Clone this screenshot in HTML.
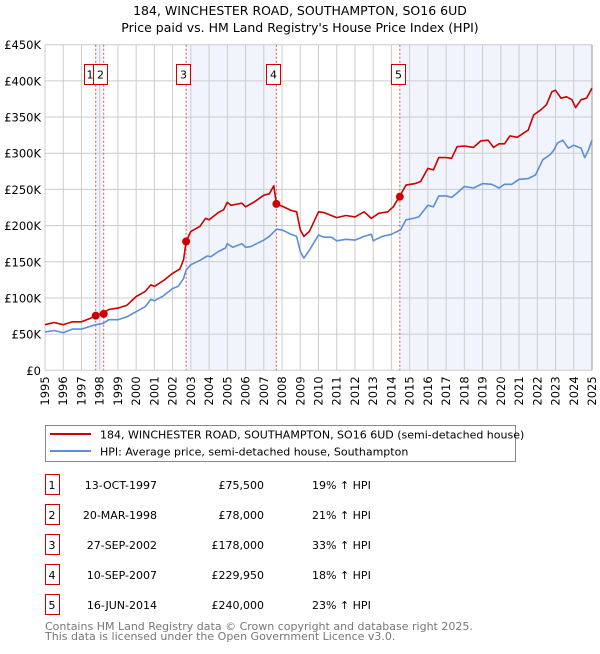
<!DOCTYPE html>
<html><head><meta charset="utf-8"><style>
body{margin:0;background:#fff;font-family:"DejaVu Sans","Liberation Sans",sans-serif;}
svg text{font-family:"DejaVu Sans","Liberation Sans",sans-serif;}
</style></head><body>
<svg id="c" width="600" height="650" xmlns="http://www.w3.org/2000/svg">
<text x="300" y="15" text-anchor="middle" font-size="12.5">184, WINCHESTER ROAD, SOUTHAMPTON, SO16 6UD</text>
<text x="300" y="32" text-anchor="middle" font-size="12.5">Price paid vs. HM Land Registry's House Price Index (HPI)</text>
<g id="plot"></g>
<rect x="45.5" y="425.5" width="470" height="36" fill="#fff" stroke="#888"/>
<line x1="50" y1="434" x2="91" y2="434" stroke="#cc0000" stroke-width="2"/>
<text x="100" y="438.5" font-size="11">184, WINCHESTER ROAD, SOUTHAMPTON, SO16 6UD (semi-detached house)</text>
<line x1="50" y1="451" x2="91" y2="451" stroke="#5b8fd6" stroke-width="2"/>
<text x="100" y="455.5" font-size="11">HPI: Average price, semi-detached house, Southampton</text>
<g id="table"></g>
<text x="45" y="630" font-size="11" fill="#777">Contains HM Land Registry data © Crown copyright and database right 2025.</text>
<text x="45" y="640" font-size="11" fill="#777">This data is licensed under the Open Government Licence v3.0.</text>
</svg>
<script>
const hpiYears=[1995,1995.5,1996,1996.5,1997,1997.5,1997.8,1998.2,1998.5,1999,1999.5,2000,2000.5,2000.8,2001,2001.5,2002,2002.3,2002.6,2002.75,2003,2003.5,2003.9,2004.1,2004.5,2004.9,2005,2005.3,2005.6,2005.8,2006,2006.3,2006.6,2007,2007.3,2007.7,2008,2008.5,2008.8,2009,2009.2,2009.5,2010,2010.3,2010.7,2011,2011.5,2012,2012.5,2012.9,2013,2013.5,2014,2014.5,2014.8,2015.2,2015.5,2016,2016.3,2016.6,2017,2017.3,2017.6,2018,2018.5,2019,2019.5,2019.9,2020.2,2020.6,2021,2021.5,2021.9,2022.3,2022.7,2022.9,2023.1,2023.4,2023.7,2024,2024.4,2024.6,2024.8,2025];
const hpiValues=[53,55,52,57,57,61,63,65,70,70,74,81,88,98,96,103,113,116,127,139,146,152,158,157,164,169,175,170,173,175,170,171,175,180,185,195,194,188,185,164,155,166,187,184,184,179,181,180,185,188,179,185,188,194,208,210,212,228,226,241,241,239,245,254,252,258,257,252,257,257,264,265,270,291,298,304,314,318,307,311,307,294,304,318];
const priceYears=[1995,1995.5,1996,1996.5,1997,1997.5,1997.78,1998.2,1998.5,1999,1999.5,2000,2000.5,2000.8,2001,2001.5,2002,2002.4,2002.6,2002.74,2003,2003.5,2003.8,2004,2004.5,2004.8,2005,2005.2,2005.6,2005.8,2006,2006.5,2007,2007.3,2007.55,2007.69,2008,2008.5,2008.8,2009,2009.2,2009.5,2010,2010.3,2010.6,2011,2011.5,2012,2012.5,2012.9,2013.3,2013.8,2014.1,2014.46,2014.8,2015.3,2015.6,2016,2016.3,2016.6,2017,2017.3,2017.6,2018,2018.5,2018.9,2019.3,2019.6,2019.9,2020.2,2020.5,2020.9,2021.2,2021.5,2021.8,2022.2,2022.5,2022.8,2023,2023.3,2023.6,2023.9,2024.1,2024.4,2024.7,2025];
const priceValues=[63,66,63,67,67,72,76,79,84,86,90,102,109,118,116,124,134,140,153,178,192,199,210,208,218,222,232,228,230,231,226,233,242,244,255,230,227,221,219,194,185,192,219,218,215,211,214,212,219,210,217,219,226,241,256,258,261,279,277,294,294,293,309,310,308,317,318,308,313,313,324,322,327,332,353,360,367,385,387,376,378,374,363,374,376,390];
const saleLabels=["1","2","3","4","5"];
const saleYears=[1997.78,1998.22,2002.74,2007.69,2014.46];
const salePrices=[75.5,78,178,229.95,240];
const saleDates=["13-OCT-1997","20-MAR-1998","27-SEP-2002","10-SEP-2007","16-JUN-2014"];
const salePriceText=["£75,500","£78,000","£178,000","£229,950","£240,000"];
const saleHpiText=["19% ↑ HPI","21% ↑ HPI","33% ↑ HPI","18% ↑ HPI","23% ↑ HPI"];
const yTicks=[0,50,100,150,200,250,300,350,400,450];
const yTickLabels=["£0","£50K","£100K","£150K","£200K","£250K","£300K","£350K","£400K","£450K"];
const xTicks=[1995,1996,1997,1998,1999,2000,2001,2002,2003,2004,2005,2006,2007,2008,2009,2010,2011,2012,2013,2014,2015,2016,2017,2018,2019,2020,2021,2022,2023,2024,2025];

const X0=45,X1=592,Y0=370.3,Y1=44.7;
const sx=y=>X0+(y-1995)/30*(X1-X0);
const sy=v=>Y0-v/450*(Y0-Y1);
const NS="http://www.w3.org/2000/svg";
const plot=document.getElementById('plot');
function mk(tag,attrs,parent){const e=document.createElementNS(NS,tag);for(const k in attrs)e.setAttribute(k,attrs[k]);(parent||plot).appendChild(e);return e;}

let bg=mk('rect',{x:X0,y:Y1,width:X1-X0,height:Y0-Y1,fill:'#fff'});


const shadeStart=[saleYears[0],saleYears[2],saleYears[4]];
const shadeEnd=[saleYears[1],saleYears[3],2025];
for(let i=0;i<shadeStart.length;i++){
 const r=mk('rect',{x:sx(shadeStart[i]),y:Y1,width:sx(shadeEnd[i])-sx(shadeStart[i]),height:Y0-Y1,fill:'#f1f4fc'});
 
 
}
xTicks.forEach(t=>{
 const l=mk('line',{x1:sx(t),x2:sx(t),y1:Y1,y2:Y0,stroke:'#cccccc','stroke-width':1});
 
 
 const tx=mk('text',{x:0,y:0,'font-size':11.5,'text-anchor':'end',transform:`translate(${sx(t)+4},${Y0+6}) rotate(-90)`});
 tx.textContent=t;
 
 
});
yTicks.forEach((t,i)=>{
 const l=mk('line',{x1:X0,x2:X1,y1:sy(t),y2:sy(t),stroke:'#cccccc','stroke-width':1});
 
 
 const tx=mk('text',{x:X0-4,y:sy(t)+4.5,'font-size':11.5,'text-anchor':'end'});
 tx.textContent=yTickLabels[i];
 
 
});
const ax=mk('line',{x1:X1,x2:X1,y1:Y1,y2:Y0,stroke:'#999','stroke-width':1});


saleYears.forEach((y,i)=>{
 const l=mk('line',{x1:sx(y),x2:sx(y),y1:Y1,y2:Y0,stroke:'#e05555','stroke-width':1,'stroke-dasharray':'2,2'});
 
 
});
function line(xs,vs,color,name){
 const d=xs.map((x,i)=>(i?'L':'M')+sx(x).toFixed(1)+','+sy(vs[i]).toFixed(1)).join(' ');
 const p=mk('path',{d,fill:'none',stroke:color,'stroke-width':1.6,'stroke-linejoin':'round'});
 
 
}
line(hpiYears,hpiValues,'#5b8fd6','hpi-line');
line(priceYears,priceValues,'#cc0000','price-line');
const boxOffset=[-12,-11,-10,-10,-9];
saleYears.forEach((y,i)=>{
 const c=mk('circle',{cx:sx(y),cy:sy(salePrices[i]),r:4,fill:'#cc0000'});
 
 
 const bx=Math.round(sx(y)+boxOffset[i])+0.5;
 const r=mk('rect',{x:bx,y:64.5,width:14,height:20,fill:'#fff',stroke:'#cc0000','stroke-width':1});
 
 
 const t=mk('text',{x:bx+(i===0?5.5:7),y:78.5,'font-size':11,'text-anchor':'middle'});
 t.textContent=saleLabels[i];
 
 
});
const tb=document.getElementById('table');
saleLabels.forEach((s,i)=>{
 const yy=475+i*30;
 const r=mk('rect',{x:45.5,y:yy-0.5,width:14,height:20,fill:'#fff',stroke:'#cc0000'},tb);
 
 
 const cols=[[52,s,'middle','table-index'],[157,saleDates[i],'end','table-date'],[264,salePriceText[i],'end','table-price'],[312,saleHpiText[i],'start','table-hpi']];
 cols.forEach(c=>{
  const t=mk('text',{x:c[0],y:yy+14,'font-size':11,'text-anchor':c[2]},tb);
  t.textContent=c[1];
  
  
 });
});
</script>
</body></html>
